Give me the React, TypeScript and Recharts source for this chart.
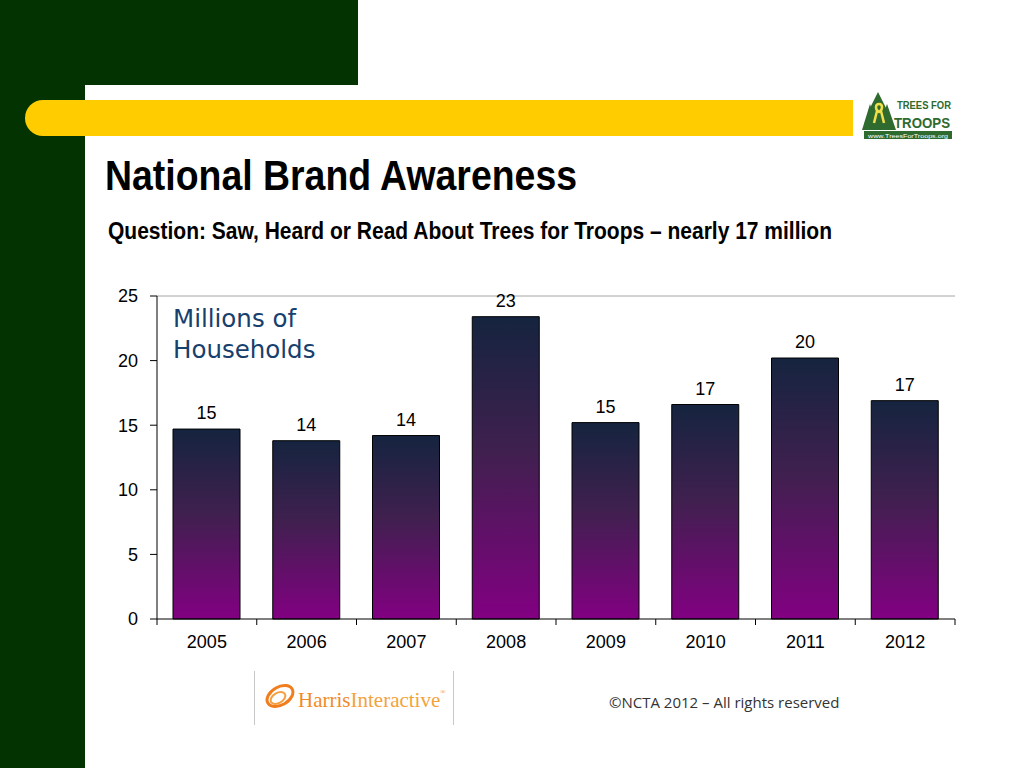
import React from "react";
import {
  BarChart,
  Bar,
  XAxis,
  YAxis,
  LabelList,
  ReferenceLine,
} from "recharts";

// Millions of households
const years = ["2005", "2006", "2007", "2008", "2009", "2010", "2011", "2012"];
const households = [14.7, 13.8, 14.2, 23.4, 15.2, 16.6, 20.2, 16.9];
const yTicks = [0, 5, 10, 15, 20, 25];

const data = years.map((year, i) => ({ year, value: households[i] }));

const GREEN = "#023301";
const YELLOW = "#FFCC00";
const ARIAL = "'Liberation Sans', Arial, sans-serif";

// category label plus a tick mark on the boundary between categories
const YearTick = (props: any) => {
  const { x, y, payload, index, visibleTicksCount } = props;
  const half = payload?.offset ?? 49.9;
  const last = index === (visibleTicksCount ?? years.length) - 1;
  return (
    <g>
      <line x1={x - half} x2={x - half} y1={y - 16} y2={y - 10} stroke="#000" />
      {last && <line x1={x + half} x2={x + half} y1={y - 16} y2={y - 10} stroke="#000" />}
      <text x={x} y={y} dy="0.71em" textAnchor="middle" fill="#000" fontSize={18} fontFamily={ARIAL}>
        {payload.value}
      </text>
    </g>
  );
};

const TreesLogo = () => (
  <svg width={100} height={54} viewBox="0 0 100 54">
    <polygon points="16,2 6,22 26,22" fill="#2f6a2f" />
    <polygon points="16,10 4,32 28,32" fill="#2f6a2f" />
    <polygon points="8,14 0,40 16,40" fill="#2f6a2f" />
    <polygon points="25,14 16,40 34,40" fill="#2f6a2f" />
    <rect x={6} y={30} width={24} height={10} fill="#2f6a2f" />
    <path d="M17 14 c-4 0 -4 6 0 8 c4 -2 4 -8 0 -8 z M15 21 l-3 12 M19 21 l3 12" stroke="#f2e04a" strokeWidth={2.5} fill="none" />
    <text x={35} y={19} fontSize={10.5} fontWeight="bold" fill="#2f6a2f" fontFamily={ARIAL} textLength={54} lengthAdjust="spacingAndGlyphs">TREES FOR</text>
    <text x={32} y={38} fontSize={15.5} fontWeight="bold" fill="#2f6a2f" fontFamily={ARIAL} textLength={56} lengthAdjust="spacingAndGlyphs">TROOPS</text>
    <rect x={2} y={41} width={88} height={8} fill="#2f6a2f" />
    <text x={46} y={47.5} fontSize={6} fill="#fff" textAnchor="middle" fontFamily={ARIAL} textLength={80} lengthAdjust="spacingAndGlyphs">www.TreesForTroops.org</text>
  </svg>
);

export default function App() {
  return (
    <div
      style={{
        position: "absolute",
        left: 0,
        top: 0,
        width: 1024,
        height: 768,
        background: "#fff",
        overflow: "hidden",
      }}
    >
      {/* slide frame */}
      <div style={{ position: "absolute", left: 0, top: 0, width: 85, height: 768, background: GREEN }} />
      <div style={{ position: "absolute", left: 0, top: 0, width: 358, height: 85, background: GREEN }} />
      <div
        style={{
          position: "absolute",
          left: 85,
          top: 85,
          width: 60,
          height: 60,
          background: "#fff",
          borderTopLeftRadius: 30,
        }}
      />
      <div
        style={{
          position: "absolute",
          left: 25,
          top: 100,
          width: 828,
          height: 36,
          background: YELLOW,
          borderTopLeftRadius: 18,
          borderBottomLeftRadius: 18,
        }}
      />
      <div style={{ position: "absolute", left: 862, top: 90 }}>
        <TreesLogo />
      </div>

      <svg style={{ position: "absolute", left: 0, top: 140 }} width={1024} height={110}>
        <text x={105} y={50} fontFamily={ARIAL} fontWeight="bold" fontSize={42} fill="#000" textLength={472} lengthAdjust="spacingAndGlyphs">
          National Brand Awareness
        </text>
        <text x={108} y={99} fontFamily={ARIAL} fontWeight="bold" fontSize={23} fill="#000" textLength={724} lengthAdjust="spacingAndGlyphs">
          Question: Saw, Heard or Read About Trees for Troops – nearly 17 million
        </text>
      </svg>

      <div style={{ position: "absolute", left: 100, top: 280 }}>
        <BarChart
          width={870}
          height={380}
          data={data}
          margin={{ top: 16, right: 15, left: 0, bottom: 10 }}
          barSize={67}
        >
          <defs>
            <linearGradient id="barGrad" x1="0" y1="0" x2="0" y2="1">
              <stop offset="0%" stopColor="#15243f" />
              <stop offset="45%" stopColor="#40204f" />
              <stop offset="100%" stopColor="#820082" />
            </linearGradient>
          </defs>
          <XAxis
            dataKey="year"
            height={31}
            tickSize={6}
            tickMargin={10}
            tickLine={false}
            axisLine={{ stroke: "#000" }}
            tick={<YearTick />}
            interval={0}
          />
          <YAxis
            yAxisId={0}
            width={57}
            domain={[0, 25]}
            ticks={yTicks}
            tickSize={7}
            tickMargin={12}
            axisLine={{ stroke: "#000" }}
            tickLine={{ stroke: "#000" }}
            tick={{ fill: "#000", fontSize: 18, fontFamily: ARIAL }}
          />
          <YAxis
            yAxisId={1}
            orientation="right"
            width={0}
            domain={[0, 25]}
            tick={false}
            tickLine={false}
            axisLine={{ stroke: "#a6a6a6" }}
          />
          <ReferenceLine yAxisId={0} y={25} stroke="#a6a6a6" />
          <Bar
            yAxisId={0}
            dataKey="value"
            fill="url(#barGrad)"
            stroke="#000"
            strokeWidth={1}
            isAnimationActive={false}
          >
            <LabelList
              dataKey="value"
              position="top"
              offset={10}
              formatter={(v: any) => Number(v).toFixed(0)}
              fill="#000"
              fontSize={18}
              fontFamily={ARIAL}
            />
          </Bar>
        </BarChart>
      </div>

      <div
        style={{
          position: "absolute",
          left: 173,
          top: 303,
          fontFamily: "'DejaVu Sans', Verdana, sans-serif",
          fontSize: 24.5,
          lineHeight: "31px",
          color: "#17406d",
        }}
      >
        Millions of
        <br />
        Households
      </div>

      {/* footer */}
      <div style={{ position: "absolute", left: 254, top: 671, width: 1, height: 54, background: "#c8c8c8" }} />
      <div style={{ position: "absolute", left: 453, top: 671, width: 1, height: 54, background: "#c8c8c8" }} />
      <svg style={{ position: "absolute", left: 262, top: 682 }} width={40} height={30}>
        <ellipse cx={18} cy={14} rx={14} ry={9} transform="rotate(-30 18 14)" fill="none" stroke="#f07d1e" strokeWidth={3} />
        <ellipse cx={16} cy={16} rx={8} ry={5} transform="rotate(-30 16 16)" fill="none" stroke="#f5a040" strokeWidth={2} />
      </svg>
      <div
        style={{
          position: "absolute",
          left: 298,
          top: 688,
          fontFamily: "'Liberation Serif', serif",
          fontSize: 21,
          color: "#f08a28",
          whiteSpace: "nowrap",
        }}
      >
        Harris<span style={{ color: "#f3a33c" }}>Interactive</span>
        <span style={{ fontSize: 7, verticalAlign: "top" }}>®</span>
      </div>
      <div
        style={{
          position: "absolute",
          left: 609,
          top: 692,
          fontFamily: "'Open Sans', 'Noto Sans', sans-serif",
          fontSize: 15,
          color: "#333",
          whiteSpace: "nowrap",
        }}
      >
        ©NCTA 2012 – All rights reserved
      </div>
    </div>
  );
}
